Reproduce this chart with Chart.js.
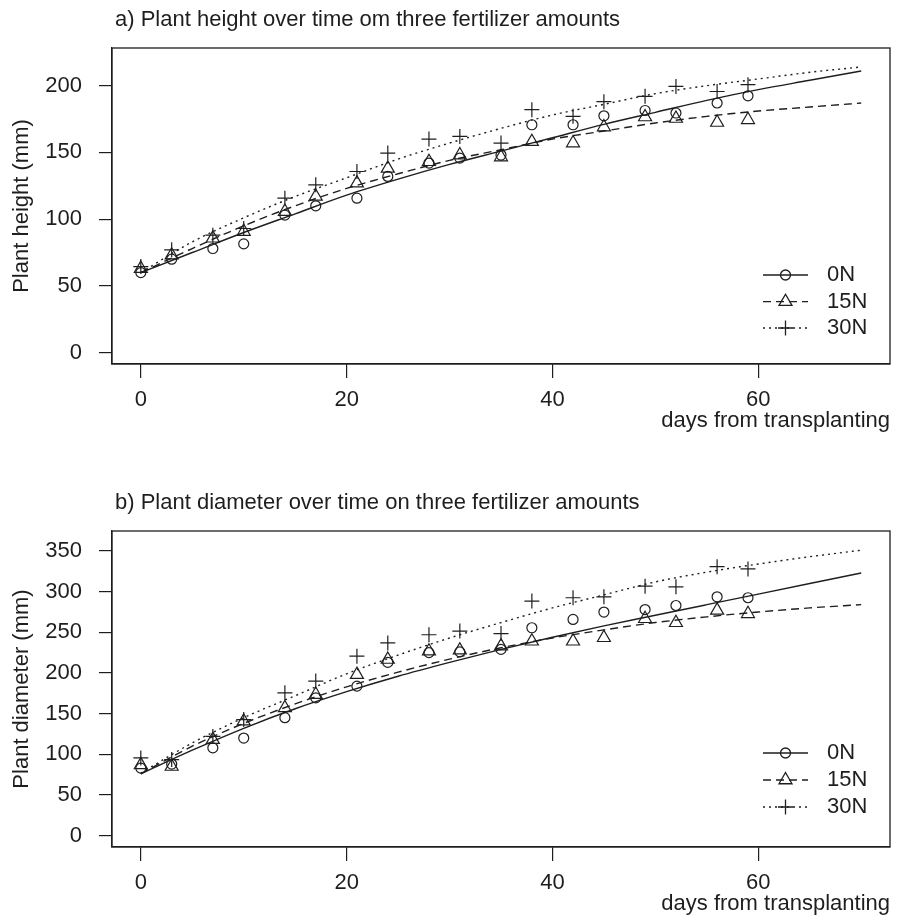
<!DOCTYPE html>
<html>
<head>
<meta charset="utf-8">
<script src="https://cdn.jsdelivr.net/npm/chart.js@4.4.0/dist/chart.umd.min.js"></script>
<style>
  body { margin: 0; background: #fff; }
  canvas { position: absolute; left: 0; }
</style>
</head>
<body>
<canvas id="chartA" width="905" height="483" style="top:0px"></canvas>
<canvas id="chartB" width="905" height="434" style="top:483px"></canvas>
<script>
// observed sampling days
const days = [0, 3, 7, 10, 14, 17, 21, 24, 28, 31, 35, 38, 42, 45, 49, 52, 56, 59];

// a) plant height (mm)
const heightN0  = [60, 70, 78, 81.5, 103, 110, 115.7, 132, 142, 145.7, 148, 170.7, 170.7, 177.4, 181.4, 179.5, 187, 192.4];
const heightN15 = [63, 73, 85.7, 90.7, 105.7, 117, 127, 138, 143, 148, 146.5, 158, 157, 169, 176.5, 175.4, 172.4, 174.4];
const heightN30 = [64.5, 77, 88, 93, 115.7, 125.7, 135.7, 149.5, 160, 162, 157, 182, 177, 188, 192, 199.4, 195.6, 200.7];

// b) plant diameter (mm)
const diamN0  = [83, 88, 108, 120, 145, 169.5, 183.8, 213, 225, 226, 229, 255.6, 265.8, 274.9, 278, 283, 293.7, 292.5];
const diamN15 = [87, 85, 118, 140.7, 157, 173.5, 198, 216.6, 226.8, 228, 233, 239, 239, 243.3, 266.7, 261.8, 277, 272.8];
const diamN30 = [95.6, 93.5, 122, 142.7, 175.6, 190, 220.7, 237, 247, 251.5, 248.5, 288.4, 292.5, 293.7, 306.8, 306, 330.7, 328];

// fitted curves
const curveDays = [0, 5, 10, 15, 20, 25, 30, 35, 40, 45, 50, 55, 60, 65, 70];
const fitHeightN0  = [60, 75, 90, 104, 118, 130, 141, 151, 161, 171, 180, 189, 197, 204, 211];
const fitHeightN15 = [60, 78, 95, 110, 123, 134, 144, 152, 160, 166, 172, 177, 181, 184, 187];
const fitHeightN30 = [60, 83, 101, 117, 131, 145, 157, 168, 178, 186, 194, 200, 205, 210, 214];
const fitDiamN0  = [76, 105, 132, 156, 177, 196, 213, 229, 244, 258, 271, 284, 297, 310, 323];
const fitDiamN15 = [76, 110, 138, 162, 183, 201, 217, 231, 243, 253, 262, 269, 275, 280, 284];
const fitDiamN30 = [77, 114, 145, 172, 199, 222, 243, 262, 280, 296, 312, 324, 334, 343, 351];

const seriesNames = ["0N", "15N", "30N"];
const xTicks = [0, 20, 40, 60];
const heightTicks = [0, 50, 100, 150, 200];
const diamTicks = [0, 50, 100, 150, 200, 250, 300, 350];

const INK = "#1e1e1e";
const FONT = "Liberation Sans, Arial, sans-serif";
const styles = [
  { pointStyle: "circle", radius: 5, dash: [] },
  { pointStyle: "triangle", radius: 7.5, dash: [8, 5] },
  { pointStyle: "cross", radius: 7.5, dash: [2, 4] }
];

function xy(xs, ys) {
  return xs.map((x, i) => ({ x: x, y: ys[i] }));
}

function drawMarker(ctx, kind, x, y) {
  ctx.beginPath();
  if (kind === "circle") {
    ctx.arc(x, y, 5, 0, Math.PI * 2);
  } else if (kind === "triangle") {
    const r = 7.5;
    for (let k = 0; k < 3; k++) {
      const a = k * 2 * Math.PI / 3;
      const px = x + Math.sin(a) * r, py = y - Math.cos(a) * r;
      if (k === 0) ctx.moveTo(px, py); else ctx.lineTo(px, py);
    }
    ctx.closePath();
  } else {
    ctx.moveTo(x - 7.5, y); ctx.lineTo(x + 7.5, y);
    ctx.moveTo(x, y - 7.5); ctx.lineTo(x, y + 7.5);
  }
  ctx.stroke();
}

// frame, panel title and legend
const panelDeco = {
  id: "panelDeco",
  afterDraw(chart, args, opts) {
    const ctx = chart.ctx;
    const a = chart.chartArea;
    ctx.save();
    ctx.strokeStyle = INK;
    ctx.lineWidth = 1.3;
    ctx.strokeRect(a.left, a.top, a.right - a.left, a.bottom - a.top);

    ctx.fillStyle = INK;
    ctx.font = "22px " + FONT;
    ctx.textBaseline = "middle";
    ctx.textAlign = "left";
    ctx.fillText(opts.title, 115, 20);

    opts.legendRows.forEach((ly, i) => {
      ctx.setLineDash(styles[i].dash);
      ctx.beginPath();
      ctx.moveTo(763, ly);
      ctx.lineTo(808, ly);
      ctx.stroke();
      ctx.setLineDash([]);
      drawMarker(ctx, styles[i].pointStyle, 785.5, ly);
      ctx.fillText(seriesNames[i], 827, ly);
    });
    ctx.restore();
  }
};

function makePanel(id, cfg) {
  const H = document.getElementById(id).height;
  const datasets = [];
  cfg.fits.forEach((f, i) => {
    datasets.push({
      label: seriesNames[i] + " fit",
      data: xy(curveDays, f),
      showLine: true,
      pointRadius: 0,
      borderColor: INK,
      borderWidth: 1.4,
      borderDash: styles[i].dash,
      cubicInterpolationMode: "monotone"
    });
  });
  cfg.obs.forEach((o, i) => {
    datasets.push({
      label: seriesNames[i],
      data: xy(days, o),
      showLine: false,
      pointStyle: styles[i].pointStyle,
      pointRadius: styles[i].radius,
      pointBorderWidth: 1.2,
      borderColor: INK,
      backgroundColor: "rgba(0,0,0,0)"
    });
  });

  return new Chart(document.getElementById(id), {
    type: "scatter",
    data: { datasets: datasets },
    plugins: [panelDeco],
    options: {
      responsive: false,
      devicePixelRatio: 1,
      animation: false,
      layout: { padding: { top: 48, right: 15, left: 0, bottom: 0 } },
      plugins: {
        legend: { display: false },
        tooltip: { enabled: false },
        panelDeco: { title: cfg.title, legendRows: cfg.legendRows }
      },
      scales: {
        x: {
          type: "linear",
          min: -2.8,
          max: 72.8,
          afterBuildTicks: s => { s.ticks = xTicks.map(v => ({ value: v })); },
          afterFit: s => { s.height = H - 364; },
          grid: { drawOnChartArea: false, drawTicks: true, tickLength: 14, color: INK, lineWidth: 1.2 },
          border: { display: true, color: INK, width: 1.2 },
          ticks: { color: INK, font: { family: FONT, size: 22 }, padding: 9, maxRotation: 0 },
          title: {
            display: true, text: "days from transplanting", align: "end",
            color: INK, font: { family: FONT, size: 22 },
            padding: { top: 0, bottom: H - 13.2 - 421 }
          }
        },
        y: {
          type: "linear",
          min: cfg.yMin,
          max: cfg.yMax,
          afterBuildTicks: s => { s.ticks = cfg.yTicks.map(v => ({ value: v })); },
          afterFit: s => { s.width = 112; },
          grid: { drawOnChartArea: false, drawTicks: true, tickLength: 13, color: INK, lineWidth: 1.2 },
          border: { display: true, color: INK, width: 1.2 },
          ticks: { color: INK, font: { family: FONT, size: 22 }, padding: 17 },
          title: {
            display: true, text: cfg.yTitle,
            color: INK, font: { family: FONT, size: 22 },
            padding: { top: 9, bottom: 0 }
          }
        }
      }
    }
  });
}

makePanel("chartA", {
  title: "a) Plant height over time om three fertilizer amounts",
  yTitle: "Plant height (mm)",
  yMin: -8.5, yMax: 228.2, yTicks: heightTicks,
  obs: [heightN0, heightN15, heightN30],
  fits: [fitHeightN0, fitHeightN15, fitHeightN30],
  legendRows: [275, 301.7, 328]
});

makePanel("chartB", {
  title: "b) Plant diameter over time on three fertilizer amounts",
  yTitle: "Plant diameter (mm)",
  yMin: -14, yMax: 374.6, yTicks: diamTicks,
  obs: [diamN0, diamN15, diamN30],
  fits: [fitDiamN0, fitDiamN15, fitDiamN30],
  legendRows: [270, 297, 324]
});
</script>
</body>
</html>
